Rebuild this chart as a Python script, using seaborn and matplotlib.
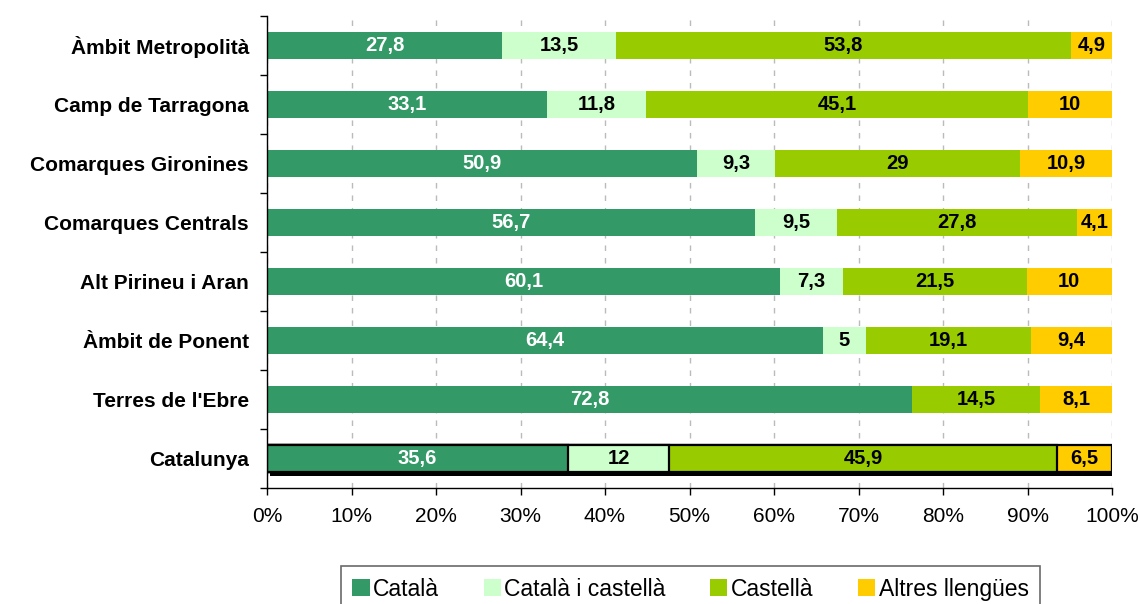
import numpy as np
import pandas as pd
import matplotlib
matplotlib.use("Agg")
import matplotlib.pyplot as plt
import seaborn as sns
from matplotlib import patheffects as pe
from matplotlib.patches import Patch

regions = ["Àmbit Metropolità", "Camp de Tarragona", "Comarques Gironines",
           "Comarques Centrals", "Alt Pirineu i Aran", "Àmbit de Ponent",
           "Terres de l'Ebre", "Catalunya"]
catala = [27.8, 33.1, 50.9, 56.7, 60.1, 64.4, 72.8, 35.6]
catala_castella = [13.5, 11.8, 9.3, 9.5, 7.3, 5.0, None, 12.0]
castella = [53.8, 45.1, 29.0, 27.8, 21.5, 19.1, 14.5, 45.9]
altres = [4.9, 10.0, 10.9, 4.1, 10.0, 9.4, 8.1, 6.5]
series_names = ["Català", "Català i castellà", "Castellà", "Altres llengües"]
x_ticks = list(range(0, 101, 10))
x_tick_labels = [f"{t}%" for t in x_ticks]

colors = ["#339966", "#CCFFCC", "#99CC00", "#FFCC00"]
label_colors = ["white", "black", "black", "black"]

sns.set_theme(style="white")
plt.rcParams["font.family"] = ["Liberation Sans", "DejaVu Sans"]
plt.rcParams["text.color"] = "black"
plt.rcParams["xtick.color"] = "black"
plt.rcParams["ytick.color"] = "black"
plt.rcParams["axes.labelcolor"] = "black"

raw = pd.DataFrame({n: s for n, s in zip(series_names, [catala, catala_castella, castella, altres])},
                   index=regions).astype(float)
vals = raw.fillna(0.0)
norm = vals.div(vals.sum(axis=1), axis=0) * 100
cum = norm.cumsum(axis=1)

W, H = 1140, 604
fig = plt.figure(figsize=(W / 100, H / 100), dpi=100)
ax = fig.add_axes([267 / W, 1 - 488 / H, 845 / W, 472 / H])

cat_idx = regions.index("Catalunya")
for i in reversed(range(4)):
    n_before = len(ax.patches)
    sns.barplot(x=cum.iloc[:, i].values, y=regions, orient="h", color=colors[i],
                saturation=1, width=0.46, ax=ax, linewidth=0, zorder=2)
    new = ax.patches[n_before:]
    for j, p in enumerate(new):
        if j == cat_idx:
            p.set_edgecolor("black")
            p.set_linewidth(1.6)
            if i == 3:
                p.set_path_effects([pe.SimplePatchShadow(offset=(2.5, -2.8), shadow_rgbFace="black", alpha=1),
                                    pe.Normal()])

# value labels
for i, name in enumerate(series_names):
    for j, r in enumerate(regions):
        v = raw.loc[r, name]
        if pd.isna(v):
            continue
        start = cum.iloc[j, i] - norm.iloc[j, i]
        xc = start + norm.iloc[j, i] / 2
        ax.text(xc, j, f"{v:g}".replace(".", ","), ha="center", va="center",
                color=label_colors[i], fontsize=14.5, fontweight="bold", zorder=5)

ax.set_xlim(0, 100)
ax.set_ylim(len(regions) - 0.5, -0.5)
ax.set_xticks(x_ticks)
ax.set_xticklabels(x_tick_labels, fontsize=15, color="black")
ax.set_xlabel("")
ax.set_ylabel("")
ax.tick_params(axis="x", direction="out", length=5, width=1, color="black", pad=9, bottom=True)
ax.tick_params(axis="y", which="major", length=0, pad=13, labelsize=15, labelcolor="black")
for lab in ax.get_yticklabels():
    lab.set_fontweight("bold")
    lab.set_color("black")
ax.set_yticks(np.arange(-0.5, len(regions), 1.0), minor=True)
ax.tick_params(axis="y", which="minor", direction="out", length=5, width=1, color="black", left=True)

ax.xaxis.grid(True, linestyle=(0, (4, 5)), color="#BBBBBB", linewidth=1)
ax.yaxis.grid(False)
ax.set_axisbelow(True)
for s in ["top", "right"]:
    ax.spines[s].set_visible(False)
for s in ["left", "bottom"]:
    ax.spines[s].set_color("black")
    ax.spines[s].set_linewidth(1)

handles = [Patch(facecolor=c, edgecolor="none", label=n) for c, n in zip(colors, series_names)]
leg = fig.legend(handles=handles, loc="lower left",
                 bbox_to_anchor=(341 / W, -8 / H, 699 / W, 44 / H), mode="expand",
                 borderaxespad=0, ncol=4,
                 frameon=True, fancybox=False, edgecolor="#444444", fontsize=16.5,
                 handlelength=0.75, handleheight=0.75, handletextpad=0.15, columnspacing=1.0,
                 borderpad=0.5)
leg.get_frame().set_linewidth(1.2)
for t in leg.get_texts():
    t.set_color("black")

fig.savefig("out.png", dpi=100)
